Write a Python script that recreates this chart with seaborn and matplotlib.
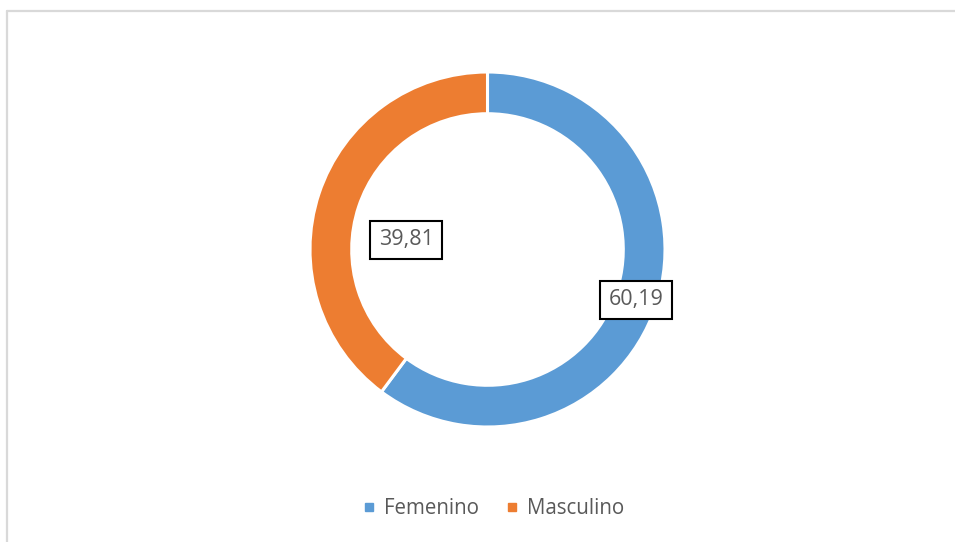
import matplotlib
matplotlib.use("Agg")
import matplotlib.pyplot as plt
from matplotlib.lines import Line2D
import seaborn as sns

# ---- data ----
categories = ["Femenino", "Masculino"]
values = [60.19, 39.81]
value_labels = ["60,19", "39,81"]
colors = ["#5B9BD5", "#ED7D31"]

sns.set_theme(style="white")
plt.rcParams['font.family'] = ['Open Sans', 'DejaVu Sans']

W, H = 955, 542
fig = plt.figure(figsize=(W / 100, H / 100), dpi=100)
fig.patch.set_facecolor("white")
ax = fig.add_axes([0, 0, 1, 1])

cx, cy, R = 487.5, H - 249.5, 177.5
wedges, _ = ax.pie(values, colors=colors, startangle=90, counterclock=False,
                   center=(cx, cy), radius=R,
                   wedgeprops=dict(width=R * 0.235, edgecolor="white", linewidth=2.2),
                   frame=True)
ax.set_xlim(0, W)
ax.set_ylim(0, H)
ax.set_aspect("equal")
ax.axis("off")

# label centers (pixel layout, top-left origin)
label_pos = [(636, 300), (406, 240)]
for (px, py), txt in zip(label_pos, value_labels):
    ax.text(px, H - py, txt, ha="center", va="center", fontsize=15.5,
            color="#595959",
            bbox=dict(boxstyle="square,pad=0.38", facecolor="white",
                      edgecolor="black", linewidth=1.5))

# legend
handles = [Line2D([0], [0], marker="s", linestyle="none", markersize=5.2,
                  markerfacecolor=c, markeredgecolor=c) for c in colors]
leg = fig.legend(handles, categories, loc="center", bbox_to_anchor=(493 / W, 1 - 509 / H),
                 ncol=2, frameon=False, fontsize=14.8, handlelength=0.7,
                 handletextpad=0.35, columnspacing=1.3, borderpad=0)
for t in leg.get_texts():
    t.set_color("#595959")

# chart border (top and left visible)
border = "#D9D9D9"
fig.add_artist(Line2D([7 / W, 1], [1 - 11 / H, 1 - 11 / H], color=border, lw=1.6,
                      transform=fig.transFigure))
fig.add_artist(Line2D([7 / W, 7 / W], [0, 1 - 11 / H], color=border, lw=1.6,
                      transform=fig.transFigure))

fig.savefig("out.png", dpi=100, facecolor="white")
